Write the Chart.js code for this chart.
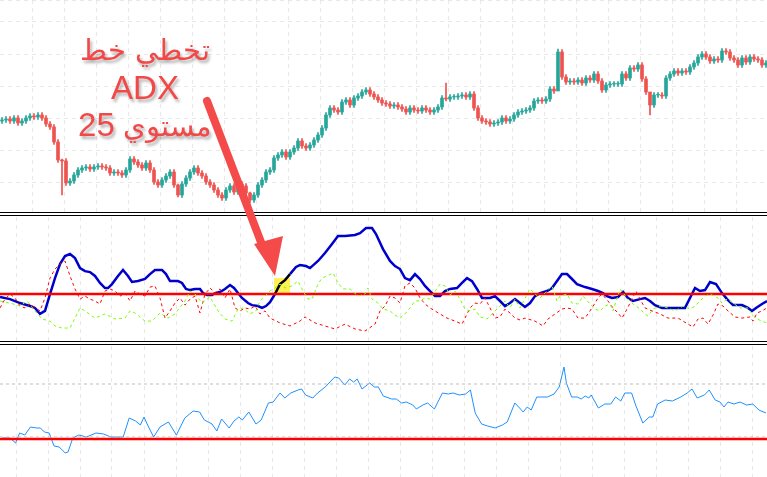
<!DOCTYPE html>
<html>
<head>
<meta charset="utf-8">
<script src="https://cdn.jsdelivr.net/npm/chart.js@4.4.0/dist/chart.umd.min.js"></script>
<style>
    body { margin: 0; background: #fff; }
    #wrap { position: relative; width: 767px; height: 477px; overflow: hidden; font-family: "Liberation Sans", Arial, sans-serif; }
    .pane { position: absolute; left: 0; width: 767px; }
    .sep { position: absolute; left: 0; width: 767px; height: 0; border-top: 4px double #000; }
    #note { position: absolute; left: 45px; top: 32px; width: 200px; text-align: center; color: #f24848; font-size: 33px; line-height: 37px; text-shadow: 2px 3px 3px rgba(0,0,0,0.3); }
    #note .ar { font-size: 29px; }
    svg { position: absolute; left: 0; top: 0; }
</style>
</head>
<body>
<div id="wrap">
    <div class="pane" style="top:0;height:212px"><canvas id="priceChart" width="767" height="212"></canvas></div>
    <div class="sep" style="top:212px"></div>
    <div class="pane" style="top:217px;height:124px"><canvas id="adxChart" width="767" height="124"></canvas></div>
    <div class="sep" style="top:341px"></div>
    <div class="pane" style="top:346px;height:131px"><canvas id="oscChart" width="767" height="131"></canvas></div>
    <svg width="767" height="477">
        <line x1="207" y1="101" x2="264" y2="250" stroke="#f44a4a" stroke-width="8" stroke-linecap="round"/>
        <polygon points="254,244 283,236 275,276" fill="#f44a4a"/>
    </svg>
    <div id="note">
        <div class="ar" dir="rtl">تخطي خط</div>
        <div>ADX</div>
        <div class="ar" dir="rtl">مستوي <span style="font-size:33px">25</span></div>
    </div>
</div>
<script>
// candle closes (first open below); open of each candle = previous close
const firstOpen = 125;
const closes = [126,127,125,128,123,125,128,130,129,131,128,122,119,104,86,85,63,65,71,76,78,79,77,79,80,79,78,73,74,73,71,76,87,84,81,78,83,76,64,61,66,70,74,61,51,62,68,74,78,73,70,64,61,56,51,48,56,60,54,62,60,53,46,51,61,66,74,76,88,91,94,89,94,98,105,100,98,101,106,111,118,131,138,136,134,144,146,141,148,150,154,156,152,149,146,143,142,140,141,139,137,134,138,136,135,138,136,134,136,139,148,147,149,149,150,151,149,152,138,128,125,124,122,123,124,128,125,127,131,134,135,136,138,145,146,145,147,157,155,194,169,164,165,164,166,163,168,166,172,165,156,161,162,162,162,172,168,178,177,181,167,154,141,151,151,150,168,172,175,173,175,174,179,183,189,192,189,185,187,186,195,194,188,186,181,188,184,189,187,186,181,183];
// [candle index, high, low] for the long shadows
const longWicks = [[15, 87, 51], [44, 62, 49], [62, 54, 43], [111, 163, 145], [139, 197, 156], [162, 151, 131]];

// ADX panel: [bar, value]
const adxLine = [[0,23.4],[2.5,22.3],[5,20.2],[7.5,18.6],[8.75,17.6],[10,14.4],[11.25,16],[12.5,25],[13.75,33.5],[15,41],[16.25,45.2],[17.5,46.3],[18.75,44.1],[20,38.8],[21.25,37.2],[22.5,36.7],[23.75,34.6],[25,30.9],[26.25,28.2],[27,28.2],[28,30.3],[29.5,34.6],[30.75,37.8],[32,34.6],[33,31.4],[34.5,31.9],[36.25,33],[37.5,35.6],[38.75,37.8],[40.5,37.8],[41.5,35.6],[42.5,31.9],[44.5,31.9],[45.5,30.9],[46.5,27.7],[47.5,27.1],[48.75,27.7],[50,27.7],[50.75,25.5],[51.75,24.5],[53,24.5],[53.75,25.5],[55,26.1],[56.25,27.7],[57.5,29.8],[58.5,28.2],[59.5,25.5],[60.5,22.9],[62,20.2],[63,19.1],[64.5,18.6],[65.5,17.6],[66.5,18.6],[67.5,20.7],[68.75,25],[70,30.3],[71.25,32.4],[72.5,35.6],[74,39.4],[75,40.4],[76.5,39.9],[77.5,38.8],[79.5,42.6],[81.25,46.8],[83,51.6],[84.5,55.9],[86.25,55.9],[88.75,56.4],[90,57.4],[91.5,60.1],[93,60.1],[94,56.9],[95.75,48.9],[97.5,42.6],[98.75,39.9],[100,38.3],[101.25,33.5],[102.5,32.4],[103.75,35.6],[105,33],[106.25,29.3],[107.5,26.6],[108.75,23.9],[110,23.9],[111.25,26.6],[112.5,27.7],[114.25,28.2],[115.5,30.9],[116.75,33.5],[118,31.9],[119.25,27.7],[120.5,22.9],[122.5,22.9],[123.75,23.9],[125,21.3],[126.25,18.6],[127.5,20.2],[128.75,22.3],[130,20.2],[131.25,18.1],[132.5,20.2],[133.75,23.9],[135,25.5],[136.75,26.6],[138,28.2],[139.25,31.9],[140.5,35.6],[141.75,35.6],[143,33],[144.25,30.3],[146.25,28.7],[148,27.7],[149.5,26.6],[150.75,25.5],[151.75,23.9],[153,22.9],[154.5,23.4],[155.75,26.1],[157,22.9],[158.25,21.3],[160,22.3],[161.25,22.9],[162.5,21.3],[163.75,19.1],[165.5,17.6],[167.5,17.6],[171.25,17.6],[172.5,22.9],[173.75,28.2],[175,26.6],[176.25,27.1],[177.5,31.4],[179,30.3],[180.5,25.5],[181.75,22.3],[183.25,19.1],[185.5,19.1],[187,17.6],[188,16],[189,17.6],[190.5,19.7],[191.75,21.3]];
const diMinus = [[0,17.6],[1.25,22.3],[2.5,25],[3.75,22.9],[5,18.6],[6.25,17.6],[7.5,19.7],[10,16],[11.25,22.9],[12.5,33.5],[13.75,38.3],[15,41],[16.25,42.6],[17.5,34.6],[18.75,27.7],[20,22.3],[21.25,23.9],[22.5,22.3],[23.75,21.3],[25,19.7],[26.25,26.6],[27.5,27.7],[28.75,26.6],[30,23.9],[31.25,25.5],[32.5,21.3],[33.75,26.6],[35,25],[36.25,23.9],[37.5,28.7],[38.75,29.3],[40,22.9],[41.25,12.2],[42.5,16],[43.75,20.2],[45,22.9],[46.25,19.1],[47.5,22.3],[48.75,23.9],[50,14.9],[51.25,25],[52.5,28.2],[53.75,25.5],[55,27.7],[56.25,22.9],[57.5,27.7],[58.75,17.6],[60,16],[61.25,17.6],[62.5,17],[63.75,18.6],[65,14.4],[66.25,16],[67.5,12.2],[70,9.6],[72.5,8],[75,10.6],[76.25,12.8],[78.75,9.6],[81.25,8],[83.75,6.4],[86.25,9],[88.75,6.4],[91.25,5.3],[93.75,9],[95,16],[96.25,18.6],[97.5,23.9],[98.75,22.9],[100,20.2],[101.25,29.3],[102.5,30.9],[103.75,28.2],[105,22.9],[106.25,19.7],[107.5,17.6],[110,14.4],[111.75,12.2],[113.75,10.6],[115.5,9],[116.25,12.2],[117.5,17.6],[118.75,20.2],[120,19.7],[121.25,22.9],[122.5,17.6],[123.75,12.2],[125,12.8],[126.25,17],[127.5,14.9],[128.75,12.2],[130,11.2],[131.25,12.2],[133.75,10.6],[135.75,8],[137,11.7],[138.75,14.4],[140.5,17],[141.75,17.6],[143,17],[144.5,12.2],[146.25,12.2],[148,17.6],[149.5,22.9],[150.5,25],[152,21.3],[153.25,17.6],[154.5,14.9],[155.5,12.2],[156.75,17],[158,22.3],[159,26.6],[160,22.3],[161.25,17.6],[163,16],[165,14.4],[167,12.2],[169.5,12.2],[172,9],[173.25,7.4],[174.5,11.7],[175.75,12.2],[177,9],[178.25,13.8],[179.5,19.7],[180.75,18.6],[182,16],[183.75,12.8],[185.5,12.2],[187.5,12.8],[188.25,10.6],[189.25,14.9],[190.5,16],[191.75,17.6]];
const diPlus = [[0,21.3],[2.5,20.2],[5,18.6],[6.75,21.3],[8.75,16],[10.5,11.7],[12.5,10.6],[13.75,8],[15.5,6.9],[17.5,6.9],[18.75,12.2],[20,17.6],[21.25,16],[23.75,12.2],[26.25,14.4],[28.75,11.7],[31.25,12.2],[32.5,16],[33.75,14.9],[36.25,10.6],[38,10.6],[40,14.9],[42,12.2],[43.75,14.4],[46.25,21.3],[47.5,26.6],[48.75,25],[50.5,20.2],[52.5,23.4],[54.5,16],[56.25,11.7],[58,10.6],[59.5,17],[60.75,17.6],[62.5,14.4],[64,16],[65,21.3],[66.25,23.9],[67.5,26.6],[68.75,28.2],[70,30.3],[71.25,28.2],[73,29.3],[74.5,31.9],[75.75,26.6],[77,22.3],[78,22.3],[79.5,30.3],[80.5,33.5],[81.75,34.6],[83.25,36.2],[84.5,30.9],[85.75,27.7],[87.5,27.7],[89.5,23.9],[91.25,25],[92,28.2],[93,22.3],[94.5,20.2],[95.75,17],[97.5,16],[98.75,13.8],[100,12.2],[101.25,14.4],[102.5,17.6],[103.75,21.3],[105,21.3],[106.25,22.9],[107.5,22.3],[110,30.3],[111.25,29.3],[112.5,24.5],[113.75,26.6],[115,22.3],[116.25,17],[117.5,16],[118.75,17],[120,12.8],[121.75,11.7],[123.75,16],[125,18.6],[126.25,21.3],[127.5,17.6],[128.75,22.3],[130,17.6],[132.5,27.7],[133.75,25],[135,22.9],[136.75,26.6],[138,29.3],[139.25,21.3],[140,23.9],[141.75,25],[143,20.2],[144.5,19.7],[145.75,23.9],[147.5,19.7],[148.75,17],[150,16],[151.25,18.6],[152.5,19.7],[153.25,16],[155,27.7],[156.75,22.9],[158.25,19.7],[160,17],[161.25,14.4],[162,13.3],[163.25,17],[165,18.6],[167,17.6],[168.75,16],[170.75,18.6],[172.5,17],[173.75,18.6],[175,21.3],[176.25,23.9],[177.5,25],[179.5,22.9],[180.5,20.2],[181.75,22.3],[183.25,20.2],[185,17.6],[187,17.6],[188,14.4],[189.25,11.7],[190.5,10.6],[191.75,9.6]];
const adxLevel = 25;
const crossFrom = 68.5, crossTo = 72.5;

// lower oscillator: [bar, value]
const oscLine = [[0.6,1],[2.5,1],[3.9,-4],[4.9,6],[6.2,4],[7.6,12],[9.2,11],[10.1,11],[11.1,7],[12.3,6],[13.5,-7],[14.8,-8],[16.3,-14],[17,-13],[18.2,1],[19.7,4],[21.6,2],[24,6],[25.9,5],[27.7,2],[29.6,2],[30.8,2],[32.3,21],[33.9,18],[35.1,14],[36,22],[36.9,14],[38.4,2],[40,12],[42.1,17],[44.1,4],[46.2,21],[48.3,28],[49.9,27],[51.1,19],[53,15],[54.2,8],[55.4,20],[57.3,11],[58.5,18],[59.7,22],[60.6,19],[62.2,27],[64,15],[65.3,19],[67.1,36],[68.3,37],[70,46],[71.2,41],[72.7,46],[74.5,49],[75.4,50],[76.4,44],[78.2,41],[79.4,46],[81.3,52],[83.7,62],[84.7,61],[86.2,54],[87.4,60],[88.4,57],[89.3,60],[90.5,50],[92.4,56],[93.6,52],[94.6,52],[95.8,43],[97.9,40],[99.1,40],[100.4,36],[101.6,37],[103.2,34],[104.1,30],[105.7,34],[106.9,36],[108.6,30],[110.6,46],[112.1,45],[113.3,46],[114.8,44],[116.4,45],[117.6,49],[118.8,26],[120.4,15],[121.9,13],[123.8,11],[125.6,14],[126.8,17],[128.7,36],[129.9,31],[130.8,27],[131.8,32],[132.8,29],[134.2,42],[135.5,42],[136.9,42],[138.5,45],[139.8,52],[141,72],[141.6,56],[142.9,42],[144.3,42],[145.3,40],[146.3,43],[147.2,41],[147.8,44],[149.6,31],[151.2,35],[152.7,35],[153.9,42],[155.2,38],[156.2,46],[157.9,46],[158.9,34],[160.7,16],[162.3,22],[163.2,22],[164.4,35],[166.3,39],[168.1,38],[170.2,42],[171.8,46],[173,50],[174.3,41],[176.1,44],[177.3,49],[178.8,39],[180,37],[181,32],[182,37],[183.5,35],[185,37],[186.6,34],[188.2,35],[189.7,29],[191.5,26]];
const oscLevels = [55, 2];
const oscZero = 0;

const xMax = 191.75;
const gridEvery = 8, gridStart = 4;

const toPts = (arr) => arr.map((p) => ({ x: p[0], y: p[1] }));
const flat = (v) => [{ x: 0, y: v }, { x: xMax, y: v }];

function xAxis() {
    return {
        type: "linear",
        min: 0,
        max: xMax,
        offset: false,
        afterBuildTicks: (axis) => {
            const t = [];
            for (let v = gridStart; v < xMax; v += gridEvery) t.push({ value: v });
            axis.ticks = t;
        },
        ticks: { display: false },
        grid: { color: "#e8e8e8", drawTicks: false, lineWidth: 1 },
        border: { display: false, dash: [4, 4] },
    };
}

const common = {
    responsive: false,
    animation: false,
    events: [],
    layout: { padding: 0 },
    plugins: { legend: { display: false }, tooltip: { enabled: false } },
};

// candles
const opens = closes.map((c, i) => (i === 0 ? firstOpen : closes[i - 1]));
const highs = closes.map((c, i) => Math.max(c, opens[i]) + 2.5);
const lows = closes.map((c, i) => Math.min(c, opens[i]) - 2.5);
longWicks.forEach(([i, h, l]) => { highs[i] = h; lows[i] = l; });
const colors = closes.map((c, i) => (c >= opens[i] ? "#26a69a" : "#ef5350"));

new Chart(document.getElementById("priceChart"), {
    type: "bar",
    data: {
        datasets: [
            {
                data: closes.map((c, i) => ({ x: i + 0.5, y: [lows[i], highs[i]] })),
                backgroundColor: colors,
                barThickness: 1,
                grouped: false,
            },
            {
                data: closes.map((c, i) => ({ x: i + 0.5, y: [opens[i], c === opens[i] ? c + 0.6 : c] })),
                backgroundColor: colors,
                barThickness: 3,
                grouped: false,
            },
        ],
    },
    options: {
        ...common,
        scales: {
            x: xAxis(),
            y: {
                min: 34,
                max: 246,
                ticks: { display: false, stepSize: 32 },
                grid: { color: "#e8e8e8", drawTicks: false },
                border: { display: false, dash: [4, 4] },
            },
        },
    },
});

// yellow box where ADX crosses 25
const crossBox = {
    id: "crossBox",
    beforeDatasetsDraw(chart) {
        const { ctx, scales } = chart;
        const x1 = scales.x.getPixelForValue(crossFrom), x2 = scales.x.getPixelForValue(crossTo);
        const y1 = scales.y.getPixelForValue(33.5), y2 = scales.y.getPixelForValue(adxLevel);
        ctx.save();
        ctx.fillStyle = "rgba(255, 240, 60, 0.85)";
        ctx.fillRect(x1, y1, x2 - x1, y2 - y1);
        ctx.restore();
    },
};

new Chart(document.getElementById("adxChart"), {
    type: "line",
    data: {
        datasets: [
            { data: toPts(diPlus), borderColor: "#7cfc00", borderWidth: 1, borderDash: [3, 3], pointRadius: 0 },
            { data: toPts(diMinus), borderColor: "#ff0000", borderWidth: 1, borderDash: [3, 3], pointRadius: 0 },
            { data: flat(adxLevel), borderColor: "#ff0000", borderWidth: 2.5, pointRadius: 0 },
            {
                data: toPts(adxLine),
                borderColor: "#0000cc",
                borderWidth: 2.5,
                pointRadius: 0,
                segment: {
                    borderColor: (c) => (c.p0.parsed.x >= crossFrom && c.p1.parsed.x <= crossTo ? "#000" : undefined),
                },
            },
        ],
    },
    options: {
        ...common,
        scales: {
            x: xAxis(),
            y: { min: 0, max: 66, display: false },
        },
    },
    plugins: [crossBox],
});

new Chart(document.getElementById("oscChart"), {
    type: "line",
    data: {
        datasets: [
            ...oscLevels.map((v) => ({ data: flat(v), borderColor: "#bdbdbd", borderWidth: 1, borderDash: [3, 3], pointRadius: 0 })),
            { data: flat(oscZero), borderColor: "#ff0000", borderWidth: 2.5, pointRadius: 0 },
            { data: toPts(oscLine), borderColor: "#1e90ff", borderWidth: 1, pointRadius: 0, tension: 0 },
        ],
    },
    options: {
        ...common,
        scales: {
            x: xAxis(),
            y: { min: -38, max: 93, display: false },
        },
    },
});
</script>
</body>
</html>
